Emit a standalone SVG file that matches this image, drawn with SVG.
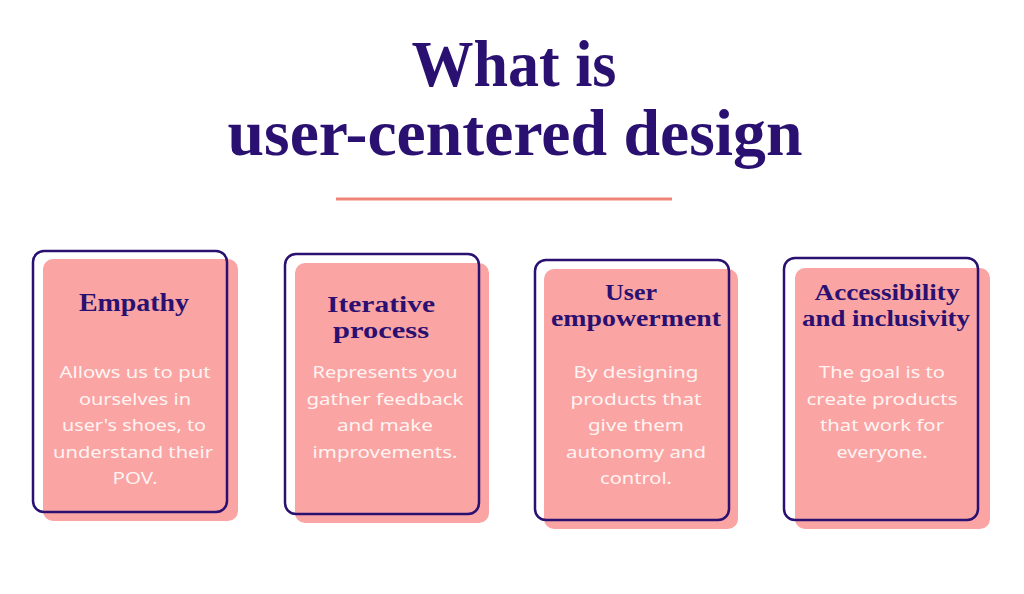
<svg xmlns="http://www.w3.org/2000/svg" width="1024" height="594" viewBox="0 0 1024 594">
<style>
.bg{fill:#ffffff}
.title{font-family:"Liberation Serif","DejaVu Serif",serif;font-weight:bold;font-size:65px;fill:#2A1070;text-anchor:middle}
.fill{fill:#FAA4A4}
.outline{fill:none;stroke:#2A1070;stroke-width:2.5}
.head{font-family:"Liberation Serif","DejaVu Serif",serif;font-weight:bold;font-size:26px;fill:#2A1070;text-anchor:middle}
.head2{font-size:23px}
.body{font-family:"Noto Sans","Open Sans",sans-serif;font-size:17px;fill:#FFF4F2;text-anchor:middle}
</style>
<rect class="bg" x="0" y="0" width="1024" height="594"/>
<g id="title">
<text class="title" x="514" y="86" textLength="205" lengthAdjust="spacingAndGlyphs">What is</text>
<text class="title" x="515" y="155" textLength="575" lengthAdjust="spacingAndGlyphs">user-centered design</text>
<line x1="336" y1="199" x2="672" y2="199" stroke="#EE8578" stroke-width="3"/>
</g>
<g id="card-empathy">
<rect class="fill" x="43" y="259" width="195" height="262" rx="10"/>
<rect class="outline" x="33" y="251" width="194" height="261" rx="11"/>
<text class="head" x="134" y="311" textLength="110" lengthAdjust="spacingAndGlyphs">Empathy</text>
<text class="body" x="135" y="378" textLength="151" lengthAdjust="spacingAndGlyphs">Allows us to put</text>
<text class="body" x="135" y="404.5" textLength="112" lengthAdjust="spacingAndGlyphs">ourselves in</text>
<text class="body" x="134" y="431" textLength="144" lengthAdjust="spacingAndGlyphs">user's shoes, to</text>
<text class="body" x="133" y="457.5" textLength="160" lengthAdjust="spacingAndGlyphs">understand their</text>
<text class="body" x="135" y="484" textLength="45" lengthAdjust="spacingAndGlyphs">POV.</text>
</g>
<g id="card-iterative">
<rect class="fill" x="295" y="263" width="194" height="260" rx="10"/>
<rect class="outline" x="285" y="254" width="194" height="260" rx="11"/>
<text class="head head2" x="381" y="312" textLength="108" lengthAdjust="spacingAndGlyphs">Iterative</text>
<text class="head head2" x="381" y="338" textLength="96" lengthAdjust="spacingAndGlyphs">process</text>
<text class="body" x="385" y="378" textLength="145" lengthAdjust="spacingAndGlyphs">Represents you</text>
<text class="body" x="385" y="404.5" textLength="157" lengthAdjust="spacingAndGlyphs">gather feedback</text>
<text class="body" x="385" y="431" textLength="96" lengthAdjust="spacingAndGlyphs">and make</text>
<text class="body" x="385" y="457.5" textLength="145" lengthAdjust="spacingAndGlyphs">improvements.</text>
</g>
<g id="card-empowerment">
<rect class="fill" x="544" y="269" width="194" height="260" rx="10"/>
<rect class="outline" x="535" y="260" width="194" height="260" rx="11"/>
<text class="head head2" x="631" y="300" textLength="52" lengthAdjust="spacingAndGlyphs">User</text>
<text class="head head2" x="636" y="326" textLength="170" lengthAdjust="spacingAndGlyphs">empowerment</text>
<text class="body" x="636" y="378" textLength="125" lengthAdjust="spacingAndGlyphs">By designing</text>
<text class="body" x="636" y="404.5" textLength="131" lengthAdjust="spacingAndGlyphs">products that</text>
<text class="body" x="636" y="431" textLength="96" lengthAdjust="spacingAndGlyphs">give them</text>
<text class="body" x="636" y="457.5" textLength="140" lengthAdjust="spacingAndGlyphs">autonomy and</text>
<text class="body" x="636" y="484" textLength="72" lengthAdjust="spacingAndGlyphs">control.</text>
</g>
<g id="card-accessibility">
<rect class="fill" x="795" y="268" width="195" height="261" rx="10"/>
<rect class="outline" x="784" y="258" width="194" height="262" rx="11"/>
<text class="head head2" x="887" y="300" textLength="145" lengthAdjust="spacingAndGlyphs">Accessibility</text>
<text class="head head2" x="886" y="326" textLength="168" lengthAdjust="spacingAndGlyphs">and inclusivity</text>
<text class="body" x="882" y="378" textLength="126" lengthAdjust="spacingAndGlyphs">The goal is to</text>
<text class="body" x="882" y="404.5" textLength="151" lengthAdjust="spacingAndGlyphs">create products</text>
<text class="body" x="882" y="431" textLength="124" lengthAdjust="spacingAndGlyphs">that work for</text>
<text class="body" x="882" y="457.5" textLength="91" lengthAdjust="spacingAndGlyphs">everyone.</text>
</g>
<g id="connectors"></g>
</svg>
